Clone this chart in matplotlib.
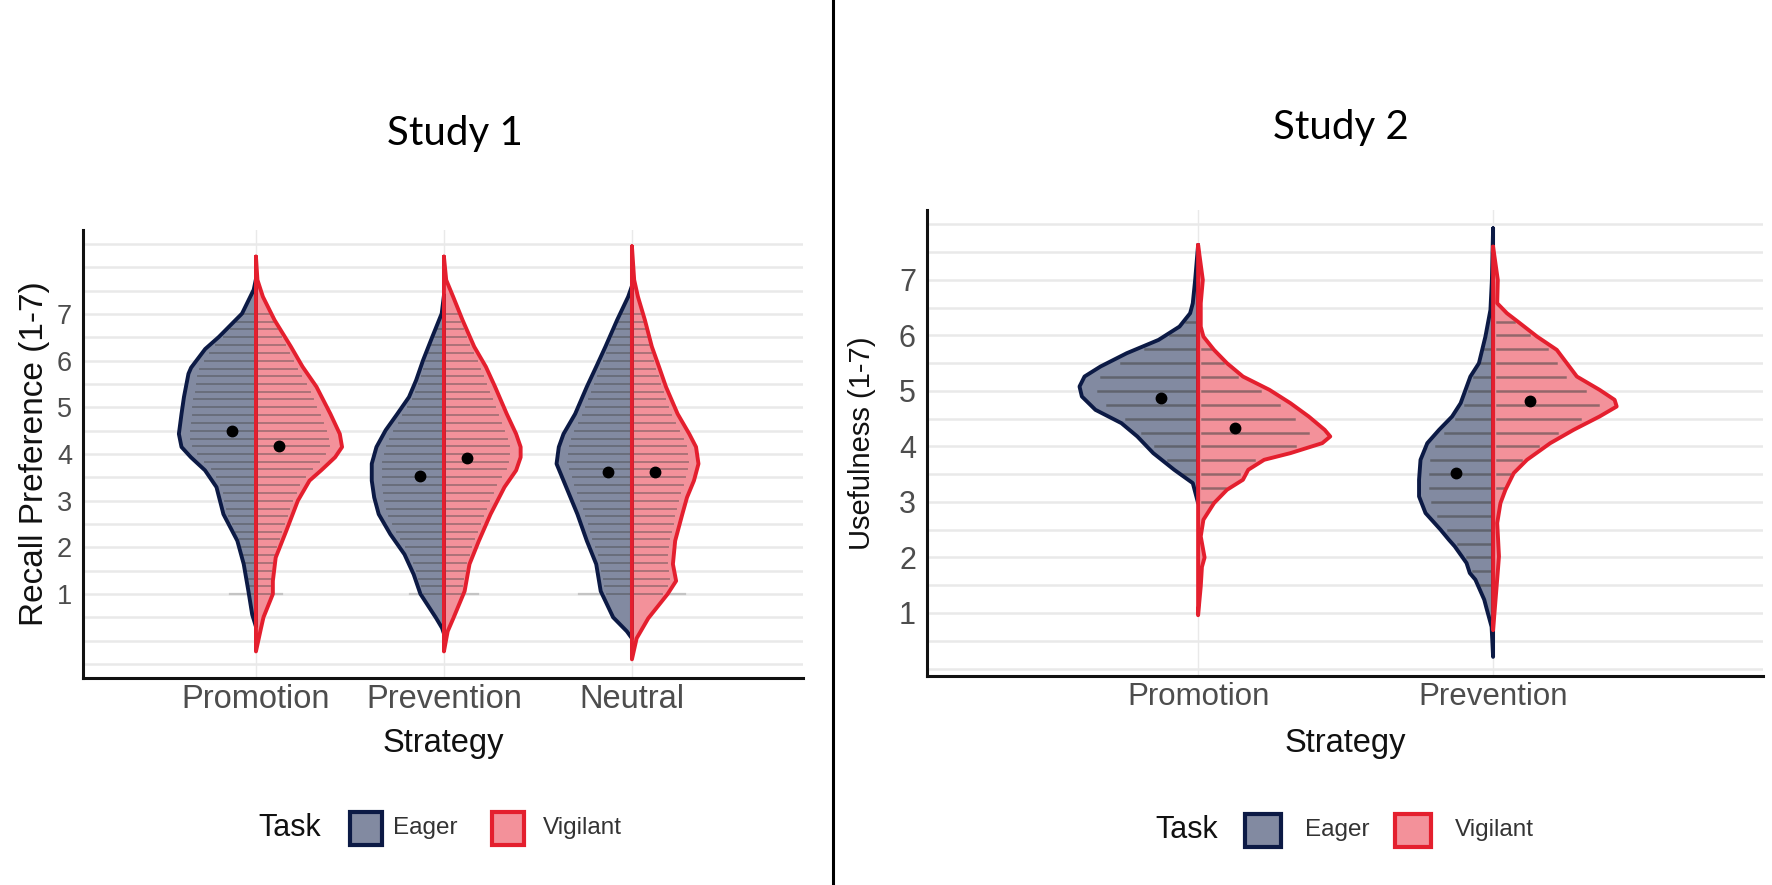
import numpy as np
import matplotlib
matplotlib.use("Agg")
import matplotlib.pyplot as plt
from matplotlib.lines import Line2D
from matplotlib.patches import Rectangle
from matplotlib.ticker import MultipleLocator

plt.rcParams['font.family'] = ['Liberation Sans', 'DejaVu Sans']

# ---- data ----
# violin outlines: heights (y) and half widths (in category units)
s1_cats = ['Promotion', 'Prevention', 'Neutral']
s1_eager_y = [
    [7.75, 7.52, 7.01, 6.51, 6.25, 6.01, 5.85, 5.72, 5.22, 4.86, 4.43, 4.15, 3.93, 3.65, 3.29, 2.71, 2.14, 1.64, 1.06, 0.56, 0.30],
    [7.40, 7.01, 6.51, 6.01, 5.58, 5.22, 4.86, 4.51, 4.15, 3.79, 3.43, 3.07, 2.71, 2.28, 1.85, 1.42, 1.00, 0.48, 0.27, 0.15],
    [7.60, 7.37, 6.87, 6.30, 5.87, 5.44, 4.86, 4.43, 4.15, 3.79, 3.43, 3.07, 2.71, 2.14, 1.64, 1.06, 0.50, 0.20, 0.05],
]
s1_eager_w = [
    [0, 0.012, 0.074, 0.197, 0.27, 0.315, 0.345, 0.359, 0.383, 0.396, 0.41, 0.396, 0.346, 0.271, 0.21, 0.173, 0.099, 0.065, 0.04, 0.02, 0],
    [0, 0.012, 0.062, 0.111, 0.148, 0.186, 0.248, 0.31, 0.359, 0.384, 0.384, 0.371, 0.347, 0.285, 0.21, 0.161, 0.125, 0.041, 0.01, 0],
    [0, 0.02, 0.079, 0.141, 0.19, 0.24, 0.302, 0.364, 0.389, 0.401, 0.364, 0.327, 0.29, 0.24, 0.19, 0.166, 0.1, 0.027, 0],
]
s1_vig_y = [
    [8.23, 7.73, 7.37, 6.87, 6.30, 5.87, 5.44, 4.86, 4.43, 4.15, 3.93, 3.65, 3.43, 3.00, 2.35, 1.78, 1.28, 1.00, 0.50, 0.27, -0.23],
    [8.23, 7.73, 7.37, 6.87, 6.30, 5.87, 5.44, 4.86, 4.43, 4.15, 3.93, 3.65, 3.29, 2.71, 2.14, 1.64, 1.06, 0.48, 0.20, -0.23],
    [8.45, 7.73, 7.37, 6.87, 6.30, 5.87, 5.44, 4.86, 4.43, 4.15, 3.79, 3.43, 3.07, 2.71, 2.14, 1.64, 1.28, 1.00, 0.48, 0.05, -0.40],
]
s1_vig_w = [
    [0, 0.008, 0.037, 0.099, 0.186, 0.248, 0.322, 0.396, 0.446, 0.458, 0.421, 0.347, 0.285, 0.223, 0.161, 0.105, 0.09, 0.09, 0.04, 0.027, 0],
    [0, 0.012, 0.049, 0.099, 0.161, 0.223, 0.272, 0.334, 0.384, 0.408, 0.408, 0.384, 0.322, 0.248, 0.186, 0.136, 0.11, 0.05, 0.02, 0],
    [0, 0.012, 0.032, 0.069, 0.106, 0.144, 0.181, 0.243, 0.305, 0.341, 0.354, 0.33, 0.293, 0.268, 0.23, 0.218, 0.235, 0.19, 0.087, 0.025, 0],
]
s1_eager_mean = [4.49, 3.52, 3.62]
s1_vig_mean = [4.18, 3.91, 3.62]
s1_floor_w = [0.14, 0.18, 0.28]   # spread of the grey marks at 1
s1_levels = [1.0, 1.17, 1.33, 1.5, 1.67, 1.83, 2.0, 2.17, 2.33, 2.5, 2.67, 2.83, 3.0,
             3.17, 3.33, 3.5, 3.67, 3.83, 4.0, 4.17, 4.33, 4.5, 4.67, 4.83, 5.0,
             5.17, 5.33, 5.5, 5.67, 5.83, 6.0, 6.17, 6.33, 6.5, 6.67, 6.83, 7.0]

s2_cats = ['Promotion', 'Prevention']
s2_eager_y = [
    [7.63, 7.0, 6.58, 6.40, 6.16, 5.92, 5.68, 5.44, 5.26, 5.08, 4.90, 4.66, 4.42, 4.18, 3.88, 3.58, 3.34, 2.98],
    [7.93, 7.0, 6.46, 5.98, 5.50, 5.26, 4.78, 4.54, 4.30, 4.06, 3.76, 3.40, 3.10, 2.80, 2.50, 2.32, 2.20, 1.90, 1.72, 1.60, 1.24, 1.10, 0.75, 0.21],
]
s2_eager_w = [
    [0, 0.01, 0.018, 0.027, 0.063, 0.134, 0.242, 0.331, 0.385, 0.402, 0.394, 0.348, 0.26, 0.206, 0.152, 0.081, 0.018, 0],
    [0, 0.004, 0.009, 0.026, 0.048, 0.077, 0.11, 0.139, 0.183, 0.223, 0.246, 0.251, 0.251, 0.229, 0.178, 0.15, 0.13, 0.09, 0.079, 0.06, 0.03, 0.023, 0.005, 0],
]
s2_vig_y = [
    [7.63, 7.0, 6.58, 6.16, 5.98, 5.74, 5.50, 5.26, 5.02, 4.78, 4.54, 4.30, 4.18, 4.06, 3.88, 3.76, 3.58, 3.40, 3.22, 2.98, 2.68, 2.38, 2.0, 1.83, 1.48, 0.96],
    [7.60, 7.0, 6.58, 6.40, 6.22, 5.98, 5.74, 5.50, 5.26, 5.02, 4.84, 4.72, 4.54, 4.30, 4.06, 3.76, 3.52, 3.22, 2.98, 2.62, 2.02, 1.48, 0.69],
]
s2_vig_w = [
    [0, 0.016, 0.009, 0.009, 0.018, 0.054, 0.098, 0.152, 0.242, 0.313, 0.375, 0.429, 0.448, 0.421, 0.313, 0.224, 0.17, 0.152, 0.098, 0.054, 0.018, 0.009, 0.022, 0.013, 0.009, 0],
    [0, 0.016, 0.014, 0.047, 0.091, 0.149, 0.216, 0.25, 0.284, 0.361, 0.412, 0.419, 0.361, 0.273, 0.194, 0.115, 0.07, 0.042, 0.025, 0.014, 0.02, 0.012, 0],
]
s2_eager_mean = [4.87, 3.53]
s2_vig_mean = [4.34, 4.82]
s2_levels = [1.0, 1.25, 1.5, 1.75, 2.0, 2.25, 2.5, 2.75, 3.0, 3.25, 3.5, 3.75, 4.0,
             4.25, 4.5, 4.75, 5.0, 5.25, 5.5, 5.75, 6.0, 6.25, 6.5, 6.75, 7.0]

# colours
NAVY = '#0c1a45'
NAVY_FILL = '#828aa1'
RED = '#e41f2e'
RED_FILL = '#f3919a'
GRID = '#e9e9e9'


def half_violin(ax, c, ys, ws, side, fill, edge, levels, dash_alpha, dash_lw):
    ys = np.asarray(ys, dtype=float)
    ws = np.asarray(ws, dtype=float)
    xs = c + side * ws
    ax.fill(xs, ys, facecolor=fill, edgecolor='none', zorder=2)
    for lv in levels:
        w = np.interp(lv, ys[::-1], ws[::-1])
        if w > 0.035:
            ax.plot([c + side * 0.012, c + side * 0.85 * w], [lv, lv],
                    color='#444444', alpha=dash_alpha, lw=dash_lw, zorder=3)
    ax.plot(np.append(xs, xs[0]), np.append(ys, ys[0]), color=edge, lw=2.8,
            zorder=4, solid_joinstyle='round', solid_capstyle='round')


def style_axes(ax, cats, ylim, xlim, ytick_size, xtick_size, ylab, ylab_size, ylab_x):
    ax.set_xlim(*xlim)
    ax.set_ylim(*ylim)
    ax.set_xticks(range(1, len(cats) + 1))
    ax.set_xticklabels(cats)
    ax.set_yticks([1, 2, 3, 4, 5, 6, 7])
    ax.yaxis.set_minor_locator(MultipleLocator(0.5))
    ax.grid(which='both', axis='y', color=GRID, lw=1.8, zorder=0)
    ax.grid(which='major', axis='x', color=GRID, lw=1.0, zorder=0)
    ax.set_axisbelow(True)
    for s in ['top', 'right']:
        ax.spines[s].set_visible(False)
    for s in ['left', 'bottom']:
        ax.spines[s].set_linewidth(2.2)
        ax.spines[s].set_color('#111111')
    ax.tick_params(which='both', length=0)
    ax.tick_params(axis='y', labelsize=ytick_size, labelcolor='#4d4d4d', pad=8)
    ax.tick_params(axis='x', labelsize=xtick_size, labelcolor='#4d4d4d', pad=4)
    ax.set_xlabel('Strategy', fontsize=23.5, color='#111111')
    ax.xaxis.set_label_coords(0.5, -0.112)
    ax.set_ylabel(ylab, fontsize=ylab_size, color='#111111')
    ax.yaxis.set_label_coords(ylab_x, 0.5)


W, H = 1772, 885
fig = plt.figure(figsize=(W / 100, H / 100), dpi=100)

# ---- Study 1 ----
ax1 = fig.add_axes([83 / W, 1 - 678 / H, 720 / W, 448 / H])
for i in range(len(s1_cats)):
    c = i + 1
    ax1.plot([c - s1_floor_w[i], c + s1_floor_w[i]], [1, 1], color='#c4c4c4', lw=1.6, zorder=1.5)
    half_violin(ax1, c, s1_eager_y[i], s1_eager_w[i], -1, NAVY_FILL, NAVY, s1_levels, 0.4, 1.4)
    half_violin(ax1, c, s1_vig_y[i], s1_vig_w[i], 1, RED_FILL, RED, s1_levels, 0.4, 1.4)
ax1.plot(np.arange(1, 4) - 0.125, s1_eager_mean, 'o', color='black', ms=7.5, zorder=5)
ax1.plot(np.arange(1, 4) + 0.125, s1_vig_mean, 'o', color='black', ms=7.5, zorder=5)
style_axes(ax1, s1_cats, (-0.8, 8.8), (0.08, 3.91), 19.5, 23.5,
           'Recall Preference (1-7)', 24, -0.046)

# ---- Study 2 ----
ax2 = fig.add_axes([927 / W, 1 - 676 / H, 836 / W, 466 / H])
for i in range(len(s2_cats)):
    c = i + 1
    half_violin(ax2, c, s2_eager_y[i], s2_eager_w[i], -1, NAVY_FILL, NAVY, s2_levels, 0.55, 1.8)
    half_violin(ax2, c, s2_vig_y[i], s2_vig_w[i], 1, RED_FILL, RED, s2_levels, 0.55, 1.8)
ax2.plot(np.arange(1, 3) - 0.125, s2_eager_mean, 'o', color='black', ms=7.5, zorder=5)
ax2.plot(np.arange(1, 3) + 0.125, s2_vig_mean, 'o', color='black', ms=7.5, zorder=5)
style_axes(ax2, s2_cats, (-0.135, 8.26), (0.081, 2.915), 22, 22.5,
           'Usefulness (1-7)', 21, -0.061)

# titles
tfont = ['Lato', 'DejaVu Sans']
fig.text(455 / W, 1 - 133 / H, 'Study 1', ha='center', va='center', fontsize=29, family=tfont)
fig.text(1341 / W, 1 - 128 / H, 'Study 2', ha='center', va='center', fontsize=29, family=tfont)

# divider
fig.add_artist(Line2D([833 / W, 833 / W], [0, 1], color='black', lw=2.2, transform=fig.transFigure))


# legends
def legend(x_task, yc, box1, x_eager, box2, x_vig, bw, bh):
    fig.text(x_task / W, 1 - yc / H, 'Task', ha='left', va='center', fontsize=22, color='#111111')
    for bx, fc, ec in [(box1, NAVY_FILL, NAVY), (box2, RED_FILL, RED)]:
        fig.add_artist(Rectangle((bx / W, 1 - (yc + bh / 2) / H), bw / W, bh / H,
                                 transform=fig.transFigure, facecolor=fc, edgecolor=ec, lw=3))
    fig.text(x_eager / W, 1 - yc / H, 'Eager', ha='left', va='center', fontsize=17.5, color='#333333')
    fig.text(x_vig / W, 1 - yc / H, 'Vigilant', ha='left', va='center', fontsize=17.5, color='#333333')


legend(258, 828, 350, 393, 492, 543, 32, 33)
legend(1155, 830, 1245, 1305, 1395, 1455, 36, 33)

fig.savefig('out.png', dpi=100)
